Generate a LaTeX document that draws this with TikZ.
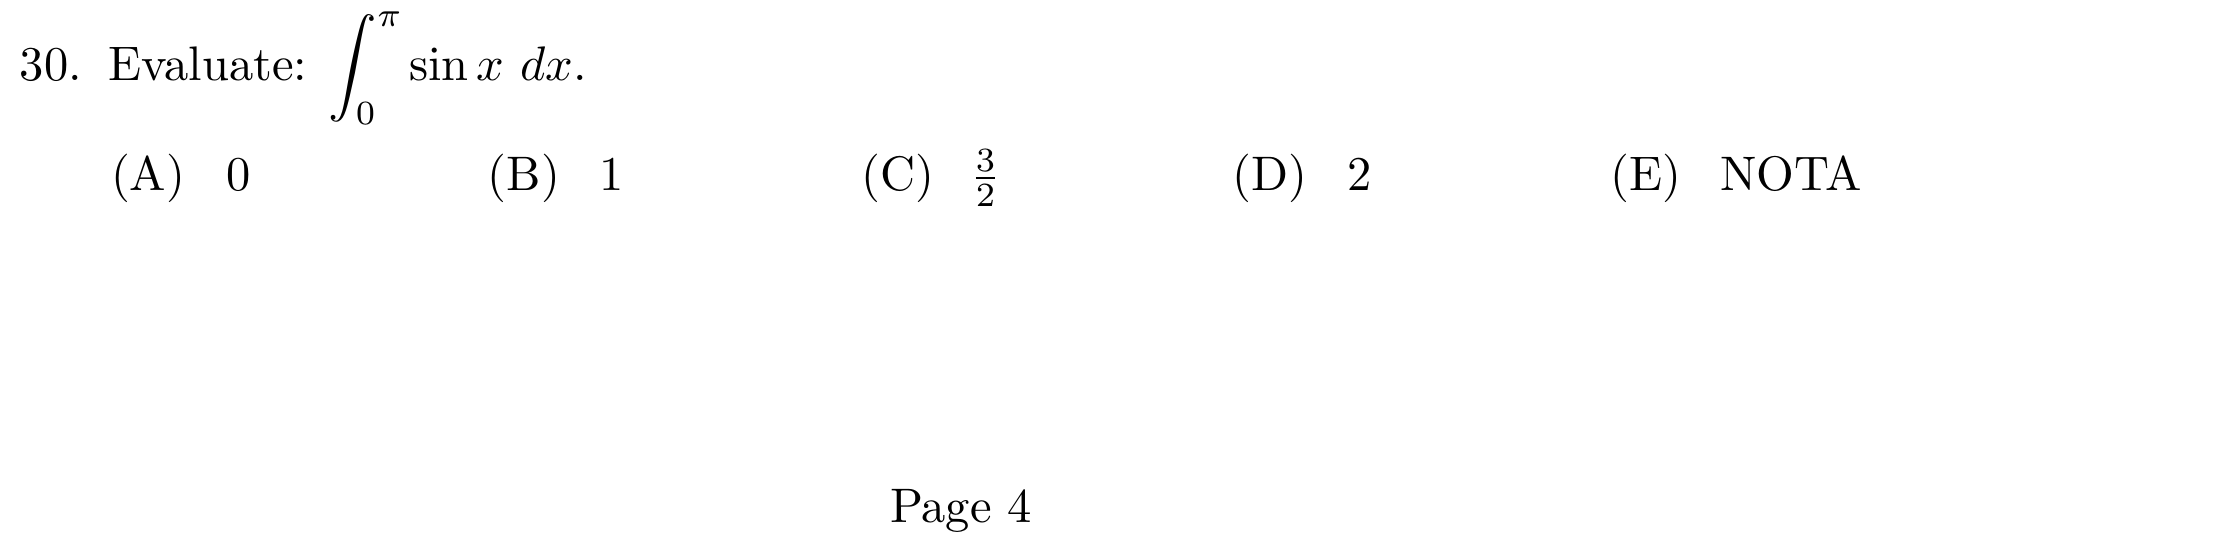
\documentclass[tikz,border=0pt]{standalone}
\usepackage{amsmath}
\begin{document}
\begin{tikzpicture}[x=1pt,y=-1pt,
  txt/.style={anchor=base west,inner sep=0pt,outer sep=0pt}]
\useasboundingbox (0,0) rectangle (460.6,110.5);
\node[txt] (num) at (4.1,16.6) {30.};
\node[txt] (q) at (22.4,16.6) {Evaluate: $\displaystyle\int_0^\pi\mspace{-1mu} \sin x\,\,dx.$};
\node[txt] (la) at (22.9,39.2) {(A)};
\node[txt] (va) at (46.6,39.2) {0};
\node[txt] (lb) at (100.6,39.2) {(B)};
\node[txt] (vb) at (123.7,39.2) {1};
\node[txt] (lc) at (177.7,39.2) {(C)};
\node[txt] (vc) at (200,39.2) {$\frac{3}{2}$};
\node[txt] (ld) at (254.2,39.2) {(D)};
\node[txt] (vd) at (277.8,39.2) {2};
\node[txt] (le) at (332,39.2) {(E)};
\node[txt] (ve) at (354.7,39.2) {NOTA};
\node[txt] (pg) at (183.5,107.8) {Page 4};
\end{tikzpicture}
\end{document}
